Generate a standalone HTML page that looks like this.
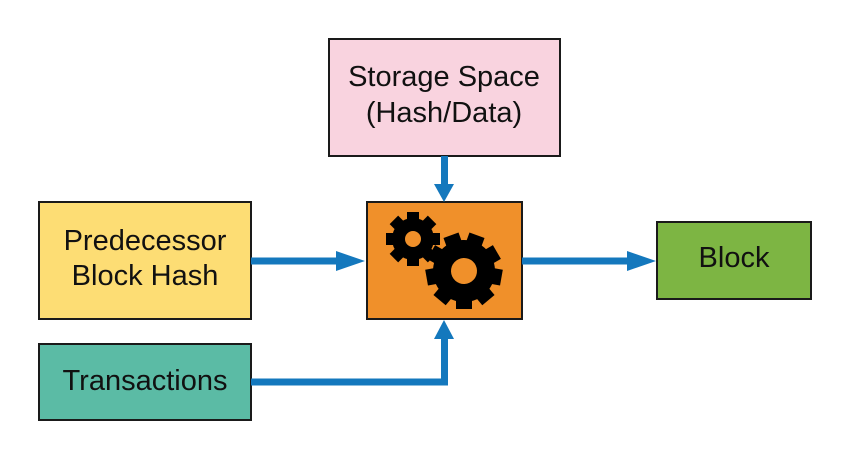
<!DOCTYPE html>
<html><head><style>
body{margin:0;background:#fff;width:850px;height:460px;overflow:hidden}
</style></head><body>
<svg width="850" height="460" xmlns="http://www.w3.org/2000/svg" font-family="Liberation Sans, sans-serif">
<rect width="850" height="460" fill="#fff"/>
<g stroke="#1a1a1a" stroke-width="2">
<rect x="329" y="39" width="231" height="117" fill="#f9d3df"/>
<rect x="39" y="202" width="212" height="117" fill="#fddd74"/>
<rect x="367" y="202" width="155" height="117" fill="#f0902a"/>
<rect x="657" y="222" width="154" height="77" fill="#7db543"/>
<rect x="39" y="344" width="212" height="76" fill="#5bbba5"/>
</g>
<g fill="#1478bd" stroke="none">
<rect x="441" y="156" width="7" height="30"/>
<polygon points="434,184 454,184 444,202"/>
<rect x="251" y="257.5" width="90" height="7"/>
<polygon points="336,251 336,271 365,261"/>
<rect x="522" y="257.5" width="110" height="7"/>
<polygon points="627,251 627,271 656,261"/>
<rect x="251" y="378.5" width="197" height="7"/>
<rect x="441" y="335" width="7" height="50"/>
<polygon points="434,339 454,339 444,320"/>
</g>
<g fill="#000">
<g transform="translate(413,239)">
<circle r="21"/>
<g id="t1"><rect x="-6" y="-27" width="12" height="10"/></g>
<use href="#t1" transform="rotate(45)"/><use href="#t1" transform="rotate(90)"/><use href="#t1" transform="rotate(135)"/>
<use href="#t1" transform="rotate(180)"/><use href="#t1" transform="rotate(225)"/><use href="#t1" transform="rotate(270)"/><use href="#t1" transform="rotate(315)"/>
<circle r="8" fill="#f0902a"/>
</g>
<g transform="translate(464,271) rotate(20)">
<circle r="31"/>
<g id="t2"><rect x="-8" y="-38" width="16" height="12"/></g>
<use href="#t2" transform="rotate(40)"/><use href="#t2" transform="rotate(80)"/><use href="#t2" transform="rotate(120)"/>
<use href="#t2" transform="rotate(160)"/><use href="#t2" transform="rotate(200)"/><use href="#t2" transform="rotate(240)"/><use href="#t2" transform="rotate(280)"/><use href="#t2" transform="rotate(320)"/>
<circle r="13" fill="#f0902a"/>
</g>
</g>
<g font-size="29" fill="#111" text-anchor="middle">
<text x="444" y="86">Storage Space</text>
<text x="444" y="122">(Hash/Data)</text>
<text x="145" y="250">Predecessor</text>
<text x="145" y="285">Block Hash</text>
<text x="734" y="267">Block</text>
<text x="145" y="390">Transactions</text>
</g>
</svg>
</body></html>
